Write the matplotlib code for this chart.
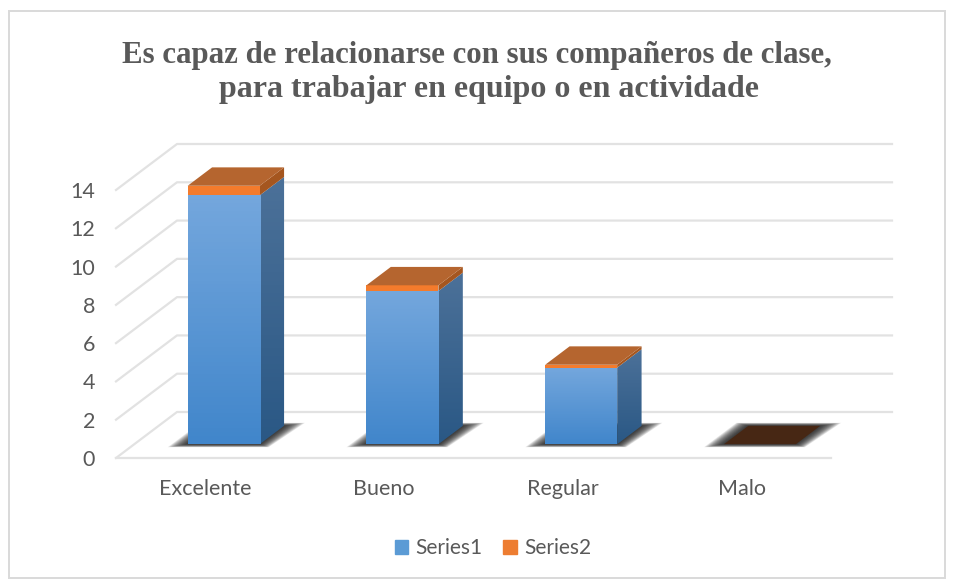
import numpy as np
import matplotlib
matplotlib.use("Agg")
import matplotlib.pyplot as plt
from matplotlib.patches import Polygon, Rectangle

categories = ["Excelente", "Bueno", "Regular", "Malo"]
series1 = [13, 8, 4, 0]
series2 = [0.5, 0.3, 0.15, 0]
y_ticks = [0, 2, 4, 6, 8, 10, 12, 14]

W, H = 956, 582
# front plane of the 3d box, pixels
LEFT, RIGHT, BASE, TOP14 = 116, 831, 458, 190
DEPTH_X, DEPTH_Y = 61, 46
BAR_W = 72 / 178.75

fig = plt.figure(figsize=(W / 100, H / 100), dpi=100, facecolor="white")
fig.add_artist(Rectangle((9 / W, 4 / H), 936 / W, 567 / H, transform=fig.transFigure,
                         fill=False, edgecolor="#d9d9d9", linewidth=1.4))

ax = fig.add_axes([LEFT / W, 1 - BASE / H, (RIGHT - LEFT) / W, (BASE - TOP14) / H])
ax.set_xlim(-0.5, 3.5)
ax.set_ylim(0, 14)
ax.patch.set_visible(False)
for s in ax.spines.values():
    s.set_visible(False)

x_unit = (RIGHT - LEFT) / 4
y_unit = (BASE - TOP14) / 14


def proj(x, y, d):
    # d is depth, 0 at front plane and 1 at the back wall
    return (x + d * DEPTH_X / x_unit, y + d * DEPTH_Y / y_unit)


def face(pts, **kw):
    kw.setdefault("linewidth", 0)
    p = Polygon(pts, closed=True, clip_on=False, **kw)
    ax.add_patch(p)
    return p


def gradient(x0, x1, y0, y1, c_top, c_bottom, clip_pts=None, z=3):
    c_top = np.array(matplotlib.colors.to_rgb(c_top))
    c_bottom = np.array(matplotlib.colors.to_rgb(c_bottom))
    t = np.linspace(0, 1, 64)[:, None, None]
    img = c_top[None, None, :] * (1 - t) + c_bottom[None, None, :] * t
    im = ax.imshow(img, extent=(x0, x1, y0, y1), aspect="auto", zorder=z)
    # bar backs rise above the axes box, so clip to the figure instead
    im.set_clip_path(None)
    im.set_clip_box(fig.bbox)
    if clip_pts is not None:
        im.set_clip_path(Polygon(clip_pts, closed=True, transform=ax.transData))
    return im


# grid lines: slanted part on the side wall then along the back wall
for v in y_ticks:
    a = proj(-0.5, v, 0)
    b = proj(-0.5, v, 1)
    c = proj(3.5, v, 1)
    ax.plot([a[0], b[0], c[0]], [a[1], b[1], c[1]], color="#e2e2e2", lw=1.6, clip_on=False, zorder=1)
f = proj(3.5, 0, 0)
ax.plot([-0.5, f[0]], [0, f[1]], color="#e2e2e2", lw=1.6, clip_on=False, zorder=1)

D0, D1 = 0.30, 0.70
# how far the shadow reaches past each floor corner, pixels
shadow_reach = [(-20, -3), (9, -3), (21, 3), (-12, 3)]
for i, (s1, s2) in enumerate(zip(series1, series2)):
    xl, xr = i - BAR_W / 2, i + BAR_W / 2
    floor = [proj(xl, 0, D0), proj(xr, 0, D0), proj(xr, 0, D1), proj(xl, 0, D1)]
    # soft shadow on the floor, stacked polygons that fade outwards
    for k in np.linspace(1, 0.05, 24):
        sh = [(p[0] + k * r[0] / x_unit, p[1] + k * r[1] / y_unit) for p, r in zip(floor, shadow_reach)]
        face(sh, facecolor="#1e1e1e", alpha=0.07, zorder=2)

    total = s1 + s2
    if total == 0:
        face(floor, facecolor="#472714", zorder=3)
        continue

    # side face of blue part
    side = [proj(xr, 0, D0), proj(xr, 0, D1), proj(xr, s1, D1), proj(xr, s1, D0)]
    sx = [p[0] for p in side]
    sy = [p[1] for p in side]
    gradient(min(sx), max(sx), min(sy), max(sy), "#4c7199", "#2a5885", clip_pts=side, z=3)
    # side of orange part
    face([proj(xr, s1, D0), proj(xr, s1, D1), proj(xr, total, D1), proj(xr, total, D0)],
         facecolor="#a5561f", zorder=4)
    # front faces
    fl = proj(xl, 0, D0)[0]
    fr = proj(xr, 0, D0)[0]
    gradient(fl, fr, proj(0, 0, D0)[1], proj(0, s1, D0)[1], "#74a7dd", "#4186cb", z=5)
    face([proj(xl, s1, D0), proj(xr, s1, D0), proj(xr, total, D0), proj(xl, total, D0)],
         facecolor="#f47b2c", zorder=5)
    # top
    face([proj(xl, total, D0), proj(xr, total, D0), proj(xr, total, D1), proj(xl, total, D1)],
         facecolor="#b5652f", zorder=5)

ax.set_xlim(-0.5, 3.5)
ax.set_ylim(0, 14)
ax.set_xticks(range(len(categories)))
ax.set_xticklabels(categories)
ax.set_yticks(y_ticks)
ax.tick_params(axis="both", length=0, labelcolor="#595959", labelsize=15.5)
ax.tick_params(axis="x", pad=15)
ax.tick_params(axis="y", pad=15)
for lab in ax.get_xticklabels() + ax.get_yticklabels():
    lab.set_family("Lato")

fig.text(477 / W, 1 - 55 / H, "Es capaz de relacionarse con sus compañeros de clase,",
         family="Liberation Serif", weight="bold", fontsize=22.2, color="#595959", ha="center", va="center")
fig.text(489 / W, 1 - 90 / H, "para trabajar en equipo o en actividade",
         family="Liberation Serif", weight="bold", fontsize=23, color="#595959", ha="center", va="center")

# legend
h = [Rectangle((0, 0), 1, 1, color="#5b9bd5"), Rectangle((0, 0), 1, 1, color="#ed7d31")]
leg = fig.legend(h, ["Series1", "Series2"], loc="center", bbox_to_anchor=(493 / W, 1 - 548 / H),
                 ncol=2, frameon=False, prop={"family": "Lato", "size": 15}, handlelength=0.65,
                 handleheight=0.65, handletextpad=0.35, columnspacing=1.0, labelcolor="#595959")

fig.savefig("out.png", dpi=100)
